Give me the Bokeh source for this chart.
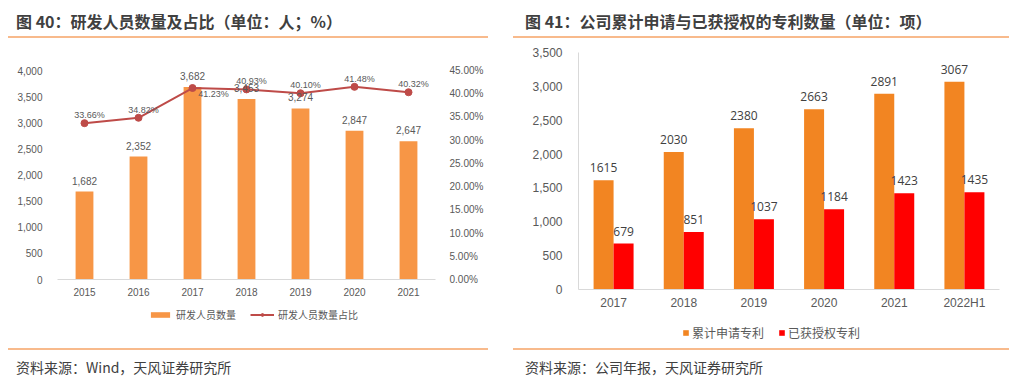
from bokeh.plotting import figure
from bokeh.models import (ColumnDataSource, FactorRange, Range1d, LinearAxis, Legend, LegendItem,
                          NumeralTickFormatter, PrintfTickFormatter, FixedTicker, Div, CDSView, IndexFilter)
from bokeh.layouts import row, column
from bokeh.transform import dodge
from bokeh.embed import file_html
from bokeh.resources import INLINE
from bokeh.core.properties import value

# ---------------- data ----------------
years_a = ["2015", "2016", "2017", "2018", "2019", "2020", "2021"]
rd_staff = [1682, 2352, 3682, 3453, 3274, 2847, 2647]
rd_share = [33.66, 34.82, 41.23, 40.93, 40.10, 41.48, 40.32]

years_b = ["2017", "2018", "2019", "2020", "2021", "2022H1"]
applied = [1615, 2030, 2380, 2663, 2891, 3067]
granted = [679, 851, 1037, 1184, 1423, 1435]

title_a = "图 40：研发人员数量及占比（单位：人；%）"
title_b = "图 41：公司累计申请与已获授权的专利数量（单位：项）"
source_a = "资料来源：Wind，天风证券研究所"
source_b = "资料来源：公司年报，天风证券研究所"
legend_a = ["研发人员数量", "研发人员数量占比"]
legend_b = ["累计申请专利", "已获授权专利"]

ticks_a_left = [0, 500, 1000, 1500, 2000, 2500, 3000, 3500, 4000]
ticks_a_right = [0, 5, 10, 15, 20, 25, 30, 35, 40, 45]
ticks_b = [0, 500, 1000, 1500, 2000, 2500, 3000, 3500]

CJK = "Noto Sans CJK SC"
NUM = "Liberation Sans"
LINE_ORANGE = "#F8BA8C"
C_BAR_A = "#F79646"
C_LINE_A = "#BE4B48"
C_APP = "#F28522"
C_GRA = "#FF0000"


def style_axis(ax, size="10px", color="#595959", line=None, standoff=6):
    ax.major_tick_line_color = None
    ax.minor_tick_line_color = None
    ax.axis_line_color = line
    ax.major_label_text_font_size = size
    ax.major_label_text_color = color
    ax.major_label_text_font = NUM
    ax.major_label_standoff = standoff


def title_div(text, width, pad_left):
    return Div(text=text, width=width, height=30, margin=(0, 0, 0, 0),
               styles={"font-size": "16px", "font-weight": "bold", "color": "#404040",
                       "font-family": CJK, "border-bottom": f"2px solid {LINE_ORANGE}",
                       "box-sizing": "border-box", "padding-left": f"{pad_left}px",
                       "padding-top": "3px", "line-height": "20px"})


def source_div(text, width, pad_left):
    return Div(text=text, width=width, height=30, margin=(0, 0, 0, 0),
               styles={"font-size": "14px", "color": "#404040",
                       "font-family": CJK, "border-top": f"2px solid {LINE_ORANGE}",
                       "box-sizing": "border-box", "padding-left": f"{pad_left}px",
                       "padding-top": "8px", "line-height": "18px"})


def legend_fig(width, height):
    f = figure(width=width, height=height, x_range=Range1d(0, 1), y_range=Range1d(0, 1),
               output_backend="svg", toolbar_location=None,
               min_border_left=0, min_border_right=0, min_border_top=0, min_border_bottom=0)
    f.axis.visible = False
    f.grid.visible = False
    f.outline_line_color = None
    return f


# hidden sample source for legend swatches (lies outside the strip's visible range)
swatch = ColumnDataSource(dict(x=[-5.0, -4.0], y=[-5.0, -5.0], top=[-5.0, -5.0], bottom=[-6.0, -6.0]))

# ---------------- chart A ----------------
src_a = ColumnDataSource(dict(
    year=years_a, staff=rd_staff, share=rd_share,
    staff_lbl=[f"{v:,}" for v in rd_staff],
    share_lbl=[f"{v:.2f}%" for v in rd_share]))

pa = figure(x_range=FactorRange(*years_a), y_range=Range1d(0, 4000),
            width=480, height=264, output_backend="svg", toolbar_location=None,
            min_border_left=49, min_border_right=53, min_border_top=32, min_border_bottom=23)
pa.extra_y_ranges = {"pct": Range1d(0, 45)}
pa.grid.visible = False
pa.outline_line_color = None

pa.vbar(x="year", top="staff", width=0.33, fill_color=C_BAR_A, line_color=None, source=src_a)
pa.line(x="year", y="share", y_range_name="pct", line_color=C_LINE_A, line_width=2, source=src_a)
pa.scatter(x="year", y="share", y_range_name="pct", size=7, fill_color=C_LINE_A,
           line_color=C_LINE_A, source=src_a)

pa.text(x="year", y="staff", text="staff_lbl", text_align="center", text_baseline="bottom",
        y_offset=-7, text_font_size="10px", text_color="#595959", text_font=value(NUM), source=src_a)

special = [years_a.index("2017")]
normal = [i for i in range(len(years_a)) if i not in special]
pa.text(x="year", y="share", text="share_lbl", y_range_name="pct", text_align="center",
        text_baseline="bottom", x_offset=5, y_offset=-3, text_font_size="9px", text_color="#595959",
        text_font=value(NUM), source=src_a, view=CDSView(filter=IndexFilter(normal)))
pa.text(x="year", y="share", text="share_lbl", y_range_name="pct", text_align="center",
        text_baseline="middle", x_offset=21, y_offset=6, text_font_size="9px", text_color="#595959",
        text_font=value(NUM), source=src_a, view=CDSView(filter=IndexFilter(special)))

pa.yaxis.ticker = FixedTicker(ticks=ticks_a_left)
pa.yaxis.formatter = NumeralTickFormatter(format="0,0")
style_axis(pa.yaxis[0], standoff=9)
style_axis(pa.xaxis[0], line="#D9D9D9", standoff=2)

ax_r = LinearAxis(y_range_name="pct", ticker=FixedTicker(ticks=ticks_a_right),
                  formatter=PrintfTickFormatter(format="%.2f%%"))
style_axis(ax_r, standoff=8)
pa.add_layout(ax_r, "right")

# legend A in its own strip under the chart
la = legend_fig(480, 46)
lg_bar = la.vbar(x="x", top="top", bottom="bottom", width=0.3, fill_color=C_BAR_A, line_color=None, source=swatch)
lg_line = la.line(x="x", y="y", line_color=C_LINE_A, line_width=2, source=swatch)
lg_dot = la.scatter(x="x", y="y", size=6, fill_color=C_LINE_A, line_color=C_LINE_A, source=swatch)
leg_a = Legend(items=[LegendItem(label=legend_a[0], renderers=[lg_bar], index=0),
                      LegendItem(label=legend_a[1], renderers=[lg_line, lg_dot], index=0)],
               orientation="horizontal", location=(91, 26),
               label_text_font_size="10px", label_text_color="#595959", label_text_font=CJK,
               glyph_width=24, glyph_height=7, spacing=14, label_standoff=4,
               padding=2, margin=0, border_line_color=None, background_fill_alpha=0)
la.add_layout(leg_a)

# ---------------- chart B ----------------
src_b = ColumnDataSource(dict(year=years_b, applied=applied, granted=granted,
                              applied_lbl=[str(v) for v in applied],
                              granted_lbl=[str(v) for v in granted]))

pb = figure(x_range=FactorRange(*years_b), y_range=Range1d(0, 3500),
            width=496, height=280, output_backend="svg", toolbar_location=None,
            min_border_left=65, min_border_right=10, min_border_top=14, min_border_bottom=29)
pb.grid.visible = False
pb.outline_line_color = None

off = 0.1425
bw = 0.285
pb.vbar(x=dodge("year", -off, range=pb.x_range), top="applied", width=bw,
        fill_color=C_APP, line_color=None, source=src_b)
pb.vbar(x=dodge("year", off, range=pb.x_range), top="granted", width=bw,
        fill_color=C_GRA, line_color=None, source=src_b)
pb.text(x=dodge("year", -off, range=pb.x_range), y="applied", text="applied_lbl",
        text_align="center", text_baseline="bottom", y_offset=-8, text_font_size="12px",
        text_color="#404040", text_font=value("Open Sans"), source=src_b)
pb.text(x=dodge("year", off, range=pb.x_range), y="granted", text="granted_lbl",
        text_align="center", text_baseline="bottom", y_offset=-8, text_font_size="12px",
        text_color="#404040", text_font=value("Open Sans"), source=src_b)

pb.yaxis.ticker = FixedTicker(ticks=ticks_b)
pb.yaxis.formatter = NumeralTickFormatter(format="0,0")
style_axis(pb.yaxis[0], size="12px", line="#D9D9D9", standoff=10)
style_axis(pb.xaxis[0], size="12px", line="#D9D9D9", standoff=0)

lb = legend_fig(496, 30)
lg_app = lb.vbar(x="x", top="top", bottom="bottom", width=0.3, fill_color=C_APP, line_color=None, source=swatch)
lg_gra = lb.vbar(x="x", top="top", bottom="bottom", width=0.3, fill_color=C_GRA, line_color=None, source=swatch)
leg_b = Legend(items=[LegendItem(label=legend_b[0], renderers=[lg_app], index=0),
                      LegendItem(label=legend_b[1], renderers=[lg_gra], index=0)],
               orientation="horizontal", location=(104, 7),
               label_text_font_size="12px", label_text_color="#595959", label_text_font=CJK,
               glyph_width=7, glyph_height=7, spacing=14, label_standoff=3,
               padding=2, margin=0, border_line_color=None, background_fill_alpha=0)
lb.add_layout(leg_b)

# ---------------- layout ----------------
col_a = column(title_div(title_a, 480, 8), pa, la, source_div(source_a, 480, 8))
col_b = column(title_div(title_b, 496, 12), pb, lb, source_div(source_b, 496, 12))
layout = row(col_a, col_b, spacing=25, margin=(8, 8, 8, 8))

open("out.html", "w").write(file_html(layout, INLINE, "chart"))
